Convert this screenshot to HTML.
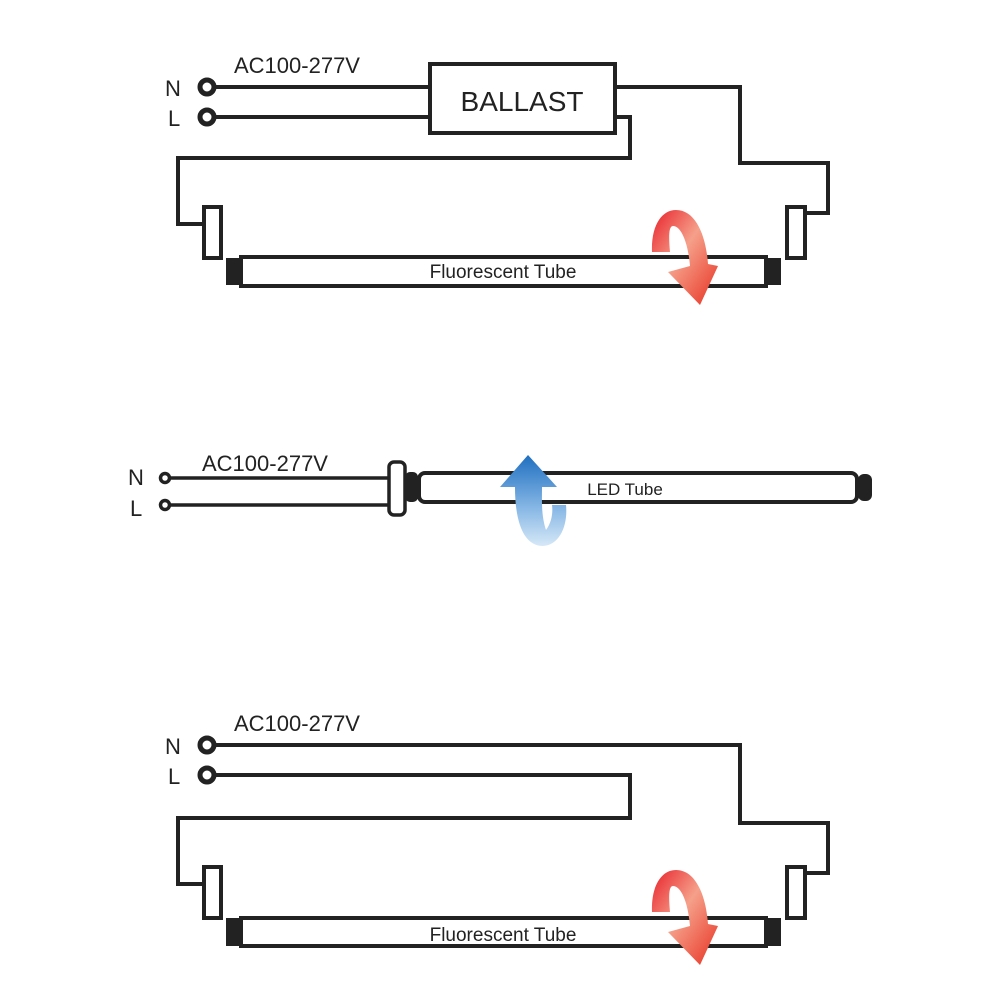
<!DOCTYPE html>
<html><head><style>body{margin:0;background:#fff}svg{display:block}</style></head><body>
<svg width="1000" height="1000" viewBox="0 0 1000 1000" xmlns="http://www.w3.org/2000/svg" font-family="Liberation Sans, sans-serif">
<defs>
<linearGradient id="red" x1="0" y1="0" x2="1" y2="1"><stop offset="0" stop-color="#e8202a"/><stop offset="0.45" stop-color="#f5a08a"/><stop offset="1" stop-color="#e83020"/></linearGradient>
<linearGradient id="blue" x1="0" y1="0" x2="0" y2="1"><stop offset="0" stop-color="#1f6fc0"/><stop offset="0.6" stop-color="#8ab9e6"/><stop offset="1" stop-color="#d6e8f7"/></linearGradient>
<g id="arrowR">
<path d="M652,252 C651,225 662,210 676,210 C696,210 706,236 708,264 L718,266 L700,305 L668,272 L690,266 C688,242 681,226 673,226 C668,226 669,240 670,252 Z" fill="url(#red)"/>
</g>
</defs>
<g fill="none" stroke="#222" stroke-width="4">
<circle cx="207" cy="87" r="7" stroke-width="5"/><circle cx="207" cy="117" r="7" stroke-width="5"/>
<path d="M215,87H430M215,117H430"/>
<rect x="430" y="64" width="185" height="69"/>
<path d="M615,87H740V163H828V213H806"/>
<path d="M615,117H630V158H178V224H204"/>
<rect x="204" y="207" width="17" height="51"/>
<rect x="787" y="207" width="18" height="51"/>
<rect x="241" y="257" width="525" height="29"/>
<circle cx="207" cy="745" r="7" stroke-width="5"/><circle cx="207" cy="775" r="7" stroke-width="5"/>
<path d="M215,745H740V823H828V873H806"/>
<path d="M215,775H630V818H178V884H204"/>
<rect x="204" y="867" width="17" height="51"/>
<rect x="787" y="867" width="18" height="51"/>
<rect x="241" y="918" width="525" height="28"/>
<circle cx="165" cy="478" r="4.5" stroke-width="3.5"/><circle cx="165" cy="505" r="4.5" stroke-width="3.5"/>
<path d="M170,478H389M170,505H389" stroke-width="3.5"/>
<rect x="389" y="462" width="16" height="53" rx="5" stroke-width="3.5"/>
<rect x="419" y="473" width="438" height="29" rx="6" stroke-width="4"/>
</g>
<g fill="#222">
<rect x="226" y="258" width="14" height="27"/><rect x="767" y="258" width="14" height="27"/>
<rect x="226" y="918" width="14" height="28"/><rect x="767" y="918" width="14" height="28"/>
<rect x="405" y="472" width="13" height="30" rx="5"/>
<rect x="858" y="474" width="14" height="27" rx="6"/>
</g>
<g fill="#222">
<text x="234" y="73" font-size="22">AC100-277V</text>
<text x="165" y="96" font-size="22">N</text><text x="168" y="126" font-size="22">L</text>
<text x="522" y="111" font-size="28" text-anchor="middle">BALLAST</text>
<text x="503" y="278" font-size="19" text-anchor="middle">Fluorescent Tube</text>
<text x="234" y="731" font-size="22">AC100-277V</text>
<text x="165" y="754" font-size="22">N</text><text x="168" y="784" font-size="22">L</text>
<text x="503" y="941" font-size="19" text-anchor="middle">Fluorescent Tube</text>
<text x="202" y="471" font-size="22">AC100-277V</text>
<text x="128" y="485" font-size="22">N</text><text x="130" y="516" font-size="22">L</text>
<text x="625" y="495" font-size="17" text-anchor="middle">LED Tube</text>
</g>
<use href="#arrowR"/>
<use href="#arrowR" transform="translate(0,660)"/>
<path d="M528,455 L557,487 L542,487 C542,500 541,515 546,530 C552,522 553,512 552,505 L566,505 C568,525 560,545 543,546 C525,546 515,525 515,487 L500,487 Z" fill="url(#blue)"/>
</svg>
</body></html>
